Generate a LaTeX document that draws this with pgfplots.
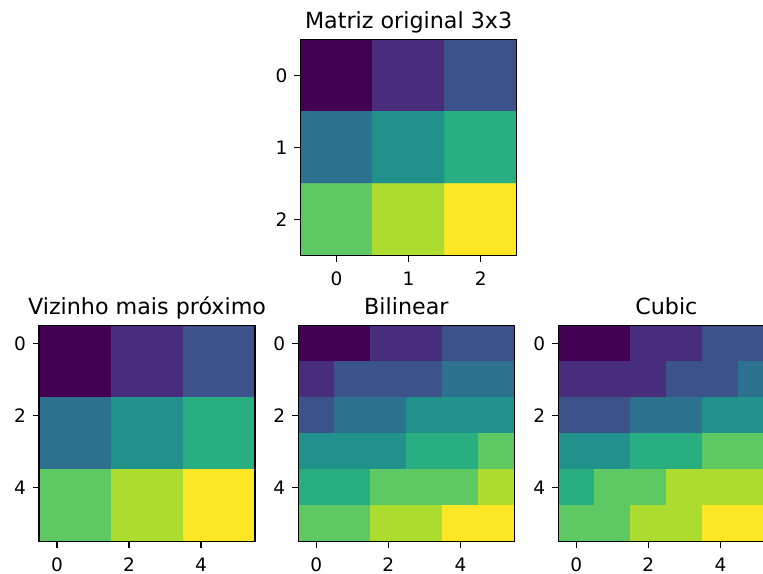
\documentclass[border=0pt]{standalone}
\usepackage{pgfplots}
\pgfplotsset{compat=1.18}
\usepackage{fontspec}
\setmainfont{DejaVu Sans}

\pgfplotsset{
  imgax/.style={
    scale only axis, width=116.7pt, height=116.7pt,
    anchor=north west,
    y dir=reverse,
    axis on top,
    enlargelimits=false,
    colormap={vir}{rgb255=(68,1,84) rgb255=(71,45,123) rgb255=(59,82,139) rgb255=(44,114,142) rgb255=(33,145,140) rgb255=(40,174,128) rgb255=(94,201,98) rgb255=(173,220,48) rgb255=(253,231,37)},
    point meta min=1, point meta max=9,
    tick align=outside, major tick length=3.5pt,
    tick pos=left,
    every tick/.style={black, line width=0.8pt},
    axis line style={line width=0.8pt},
    ticklabel style={font=\fontsize{10}{12}\selectfont, inner sep=0pt},
    xticklabel style={anchor=north},
    yticklabel style={anchor=east},
    xticklabel shift=5.1pt,
    yticklabel shift=3.4pt,
    every axis title shift=0pt,
    title style={at={(0.5,1)}, anchor=base, yshift=6pt, inner sep=0pt, font=\fontsize{12}{14}\selectfont},
    /pgf/number format/assume math mode=true,
  },
  big/.style={xmin=-0.5, xmax=5.5, ymin=-0.5, ymax=5.5, xtick={0,2,4}, ytick={0,2,4}},
}

\begin{document}
\begin{tikzpicture}
\useasboundingbox (0,0) rectangle (412.02pt,309.96pt);

% original 3x3
\begin{axis}[imgax, at={(162.3pt,288.6pt)}, title={Matriz original 3x3},
  xmin=-0.5, xmax=2.5, ymin=-0.5, ymax=2.5, xtick={0,1,2}, ytick={0,1,2}]
\addplot[matrix plot*, mesh/cols=3, point meta=explicit] table[meta=c] {
x y c
0 0 1
1 0 2
2 0 3
0 1 4
1 1 5
2 1 6
0 2 7
1 2 8
2 2 9
};
\end{axis}

% nearest
\begin{axis}[imgax, big, at={(21.06pt,134.2pt)}, title={Vizinho mais próximo}]
\addplot[matrix plot*, mesh/cols=6, point meta=explicit] table[meta=c] {
x y c
0 0 1
1 0 1
2 0 2
3 0 2
4 0 3
5 0 3
0 1 1
1 1 1
2 1 2
3 1 2
4 1 3
5 1 3
0 2 4
1 2 4
2 2 5
3 2 5
4 2 6
5 2 6
0 3 4
1 3 4
2 3 5
3 3 5
4 3 6
5 3 6
0 4 7
1 4 7
2 4 8
3 4 8
4 4 9
5 4 9
0 5 7
1 5 7
2 5 8
3 5 8
4 5 9
5 5 9
};
\end{axis}

% bilinear
\begin{axis}[imgax, big, at={(161.1pt,134.2pt)}, title={Bilinear}]
\addplot[matrix plot*, mesh/cols=6, point meta=explicit] table[meta=c] {
x y c
0 0 1
1 0 1
2 0 2
3 0 2
4 0 3
5 0 3
0 1 2
1 1 3
2 1 3
3 1 3
4 1 4
5 1 4
0 2 3
1 2 4
2 2 4
3 2 5
4 2 5
5 2 5
0 3 5
1 3 5
2 3 5
3 3 6
4 3 6
5 3 7
0 4 6
1 4 6
2 4 7
3 4 7
4 4 7
5 4 8
0 5 7
1 5 7
2 5 8
3 5 8
4 5 9
5 5 9
};
\end{axis}

% cubic
\begin{axis}[imgax, big, at={(301.5pt,134.2pt)}, title={Cubic}]
\addplot[matrix plot*, mesh/cols=6, point meta=explicit] table[meta=c] {
x y c
0 0 1
1 0 1
2 0 2
3 0 2
4 0 3
5 0 3
0 1 2
1 1 2
2 1 2
3 1 3
4 1 3
5 1 4
0 2 3
1 2 3
2 2 4
3 2 4
4 2 5
5 2 5
0 3 5
1 3 5
2 3 6
3 3 6
4 3 7
5 3 7
0 4 6
1 4 7
2 4 7
3 4 8
4 4 8
5 4 8
0 5 7
1 5 7
2 5 8
3 5 8
4 5 9
5 5 9
};
\end{axis}
\end{tikzpicture}
\end{document}
